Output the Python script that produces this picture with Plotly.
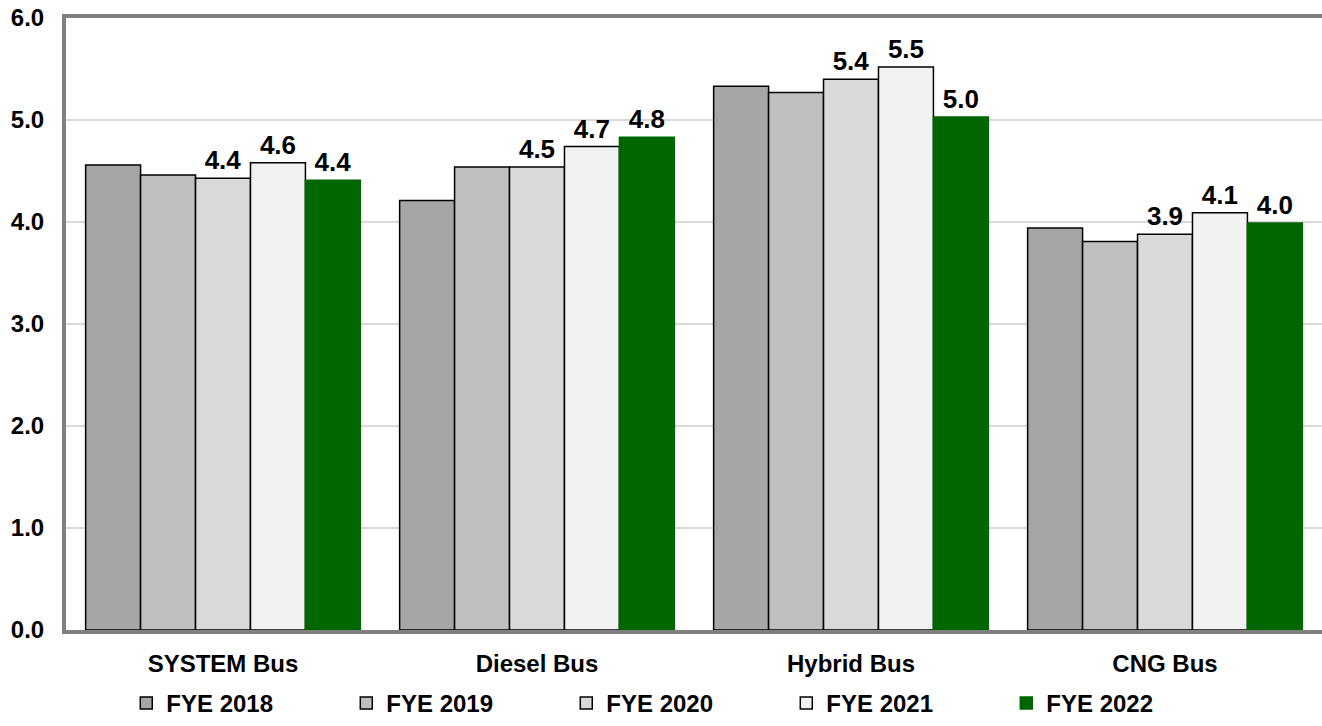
import plotly.graph_objects as go

categories = ["SYSTEM Bus", "Diesel Bus", "Hybrid Bus", "CNG Bus"]
series_names = ["FYE 2018", "FYE 2019", "FYE 2020", "FYE 2021", "FYE 2022"]
fye2018 = [4.56, 4.21, 5.33, 3.94]
fye2019 = [4.46, 4.54, 5.27, 3.81]
fye2020 = [4.43, 4.54, 5.40, 3.88]
fye2021 = [4.58, 4.74, 5.52, 4.09]
fye2022 = [4.41, 4.83, 5.03, 3.99]
y_ticks = [0, 1, 2, 3, 4, 5, 6]

series_values = [fye2018, fye2019, fye2020, fye2021, fye2022]
colors = ["#a6a6a6", "#bfbfbf", "#d9d9d9", "#f2f2f2", "#006600"]
outline = ["#000000", "#000000", "#000000", "#000000", "#006600"]
show_labels = [False, False, True, True, True]

FONT = "Arial, Liberation Sans, sans-serif"

fig = go.Figure()
for name, vals, col, lc, lab in zip(series_names, series_values, colors, outline, show_labels):
    fig.add_trace(go.Bar(
        name=f"<b>{name}</b>", x=categories, y=vals,
        marker=dict(color=col, line=dict(color=lc, width=1.5)),
        text=[f"{v:.1f}" for v in vals] if lab else None,
        texttemplate="<b>%{text}</b>" if lab else None,
        textposition="outside" if lab else "none",
        textfont=dict(family=FONT, size=26, color="#000000"),
        cliponaxis=False,
    ))

fig.update_layout(
    width=1322, height=726,
    barmode="group", bargap=0.125, bargroupgap=0,
    plot_bgcolor="white", paper_bgcolor="white",
    margin=dict(l=66, r=0, t=18, b=96),
    font=dict(family=FONT, size=24, color="#000000"),
    showlegend=True,
    legend=dict(orientation="h", x=0.048, xanchor="left",
                yref="container", y=-0.013, yanchor="bottom",
                bgcolor="rgba(0,0,0,0)",
                entrywidth=175, entrywidthmode="pixels",
                font=dict(family=FONT, size=24, color="#000000"),
                itemwidth=30, traceorder="normal"),
    uniformtext=dict(minsize=26, mode="show"),
)
fig.update_xaxes(showgrid=False, showline=True, linecolor="#808080", linewidth=3.5,
                 mirror=True, ticks="", automargin=False,
                 tickvals=categories, ticktext=[f"<b>{c}</b>" for c in categories],
                 tickfont=dict(family=FONT, size=24, color="#000000"),
                 ticklabelstandoff=9)
fig.update_yaxes(range=[0, 6], tickvals=y_ticks, ticktext=[f"<b>{v:.1f}</b>" for v in y_ticks],
                 showgrid=True, gridcolor="#d9d9d9", gridwidth=1.5,
                 showline=True, linecolor="#808080", linewidth=4, mirror=True,
                 ticks="", ticklabelstandoff=13, zeroline=False, automargin=False,
                 tickfont=dict(family=FONT, size=24, color="#000000"))

fig.write_html("out.html", config={"displayModeBar": False},
               post_script="document.body.style.margin='0';document.body.style.overflow='hidden';")
